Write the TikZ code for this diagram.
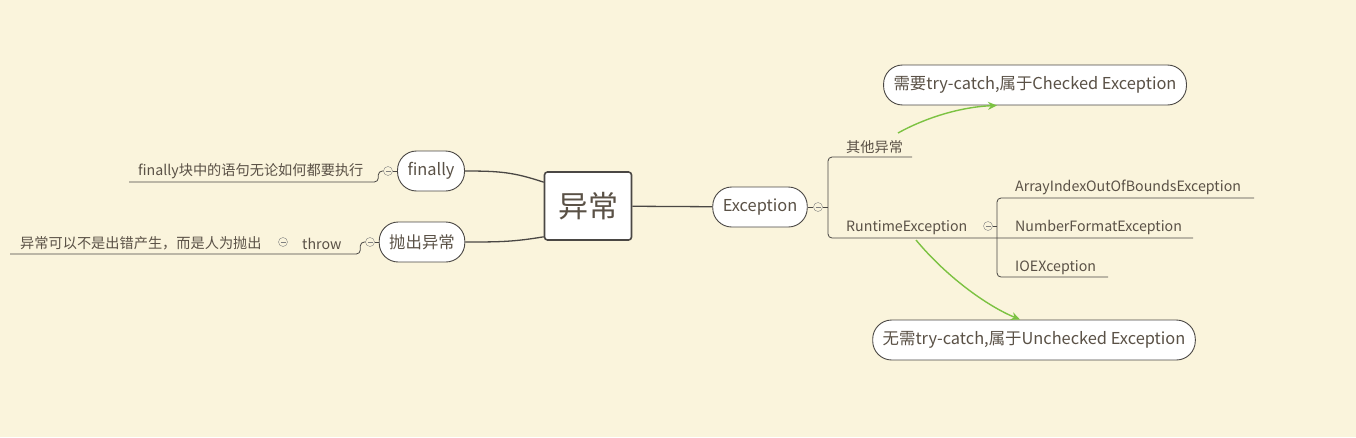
\documentclass[tikz,border=0pt]{standalone}
\usepackage{fontspec}
\setmainfont{Noto Sans CJK SC}
\usetikzlibrary{arrows.meta,calc,positioning}
\definecolor{paper}{HTML}{FAF4DC}
\definecolor{ink}{HTML}{4A4744}
\definecolor{word}{HTML}{5A5146}
\definecolor{leaf}{HTML}{7CC242}

\begin{document}
\begin{tikzpicture}[x=1pt,y=-1pt,>=Stealth,
  topic/.style={draw=ink,line width=0.9pt,fill=white,rounded corners=19pt,minimum height=40pt,inner xsep=10pt,text=word,font=\fontsize{16.4}{18}\selectfont},
  root/.style={draw=ink,line width=1.6pt,fill=white,rounded corners=3pt,minimum width=87pt,minimum height=68pt,text=word,font=\fontsize{30}{32}\selectfont},
  sub/.style={inner sep=0pt,text=word,font=\fontsize{14.2}{16}\selectfont},
  fold/.style={circle,draw=gray,fill=paper,inner sep=0pt,minimum size=9pt,
    path picture={\draw[gray] ([xshift=-2.5pt]path picture bounding box.center)--([xshift=2.5pt]path picture bounding box.center);}},
  link/.style={ink,line width=1.3pt},
  rule/.style={ink,line width=0.8pt},
  jump/.style={-{Stealth[length=9pt,width=8pt]},leaf,line width=1.4pt}]
  \fill[paper] (0,0) rectangle (1356,437);
  \useasboundingbox (0,0) rectangle (1356,437);
  % main topics
  \node[root] (err) at (588,206) {异常};
  \node[topic] (fin) at (431,171) {finally};
  \node[topic] (thr) at (422,242) {抛出异常};
  \node[topic] (exc) at (760,207) {Exception};
  \node[topic] (chk) at (1035,85) {需要try-catch,属于Checked Exception};
  \node[topic] (unc) at (1034,340) {无需try-catch,属于Unchecked Exception};
  \draw[link] ($(err.north west)+(0,11)$) .. controls +(-30,-10) and +(35,0) .. (fin.east);
  \draw[link] ($(err.south west)+(0,-4)$) .. controls +(-30,5) and +(35,0) .. (thr.east);
  \draw[link] (err) -- (exc);
  % left side
  \node[fold] (ff) at (388,171) {};
  \node[fold] (tf) at (370,242) {};
  \node[fold] (wf) at (283,242) {};
  \node[sub,anchor=west] (fnote) at (138,171.5) {finally块中的语句无论如何都要执行};
  \node[sub,anchor=west] (tw) at (302,243.5) {throw};
  \node[sub,anchor=west] (tnote) at (20,243.5) {异常可以不是出错产生，而是人为抛出};
  \coordinate (fl) at (129,182);
  \coordinate (tl) at (10,254);
  \draw[rule] (ff) -- (fin);
  \draw[rule] (tf) -- (thr);
  \draw[rule,rounded corners=4pt] (fl) -| ([xshift=-5pt]ff.west) -- (ff.west);
  \draw[rule,rounded corners=4pt] (tl) -| ([xshift=-5pt]tf.west) -- (tf.west);
  % right side
  \node[fold] (ef) at (818,207) {};
  \node[fold] (rf) at (988,226) {};
  \node[sub,anchor=west] (oth) at (846,147.5) {其他异常};
  \node[sub,anchor=west] (rte) at (846,227.5) {RuntimeException};
  \node[sub,anchor=west] (aio) at (1015,187.5) {ArrayIndexOutOfBoundsException};
  \node[sub,anchor=west] (nfe) at (1015,227.5) {NumberFormatException};
  \node[sub,anchor=west] (ioe) at (1015,267.5) {IOEXception};
  \draw[rule] (exc) -- (ef);
  \draw[rule] (ef) -- (828,207);
  \draw[rule,rounded corners=4pt] (912,157) -- (828,157) -- (828,238) -- (1193,238);
  \draw[rule] (rf) -- (997,226);
  \draw[rule,rounded corners=4pt] (1254,198) -- (997,198) -- (997,277) -- (1108,277);
  % green arrows
  \draw[jump] (898,133) .. controls (925,118) and (960,107) .. ([xshift=-38pt]chk.south);
  \draw[jump] (916,240) .. controls (945,275) and (985,305) .. ([xshift=-14pt]unc.north);
\end{tikzpicture}
\end{document}
